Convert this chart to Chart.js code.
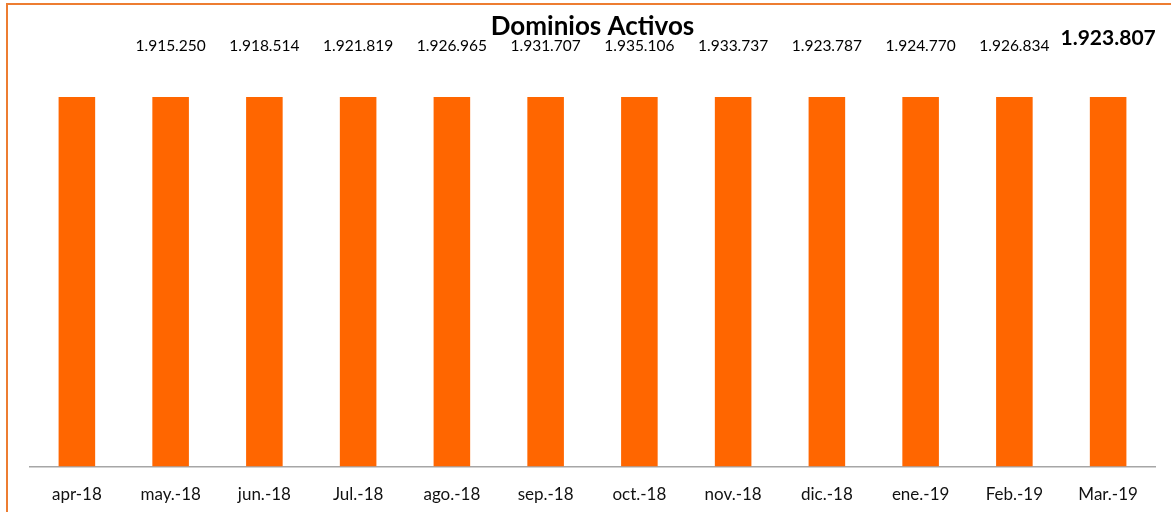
<!DOCTYPE html>
<html>
<head>
<meta charset="utf-8">
<script src="https://cdn.jsdelivr.net/npm/chart.js@4/dist/chart.umd.min.js"></script>
<style>
  html, body { margin: 0; padding: 0; background: #ffffff; }
  #wrap { width: 1171px; height: 512px; position: relative; }
</style>
</head>
<body>
<div id="wrap"><canvas id="myChart"></canvas></div>
<script>
// months on the x axis
var months = ['apr-18', 'may.-18', 'jun.-18', 'Jul.-18', 'ago.-18', 'sep.-18',
              'oct.-18', 'nov.-18', 'dic.-18', 'ene.-19', 'Feb.-19', 'Mar.-19'];
// active domains (apr-18 has no label in the picture)
var activeDomains = [null, 1915250, 1918514, 1921819, 1926965, 1931707,
                     1935106, 1933737, 1923787, 1924770, 1926834, 1923807];
// the bars all reach the same height in the picture
var barLevels = [1, 1, 1, 1, 1, 1, 1, 1, 1, 1, 1, 1];

function fmt(n) {
    return String(n).replace(/\B(?=(\d{3})+(?!\d))/g, '.');
}

// frame, title and the value labels above the bars
var decorations = {
    id: 'decorations',
    afterDraw: function (chart) {
        var ctx = chart.ctx;
        var area = chart.chartArea;
        ctx.save();
        ctx.strokeStyle = '#ED7D31';
        ctx.lineWidth = 2;
        ctx.strokeRect(7, 4, 1200, 600);

        ctx.fillStyle = '#000000';
        ctx.textAlign = 'center';
        ctx.textBaseline = 'middle';
        ctx.font = 'bold 26px Lato';
        ctx.fillText('Dominios Activos', (area.left + area.right) / 2, 27);

        var meta = chart.getDatasetMeta(0);
        var last = activeDomains.length - 1;
        activeDomains.forEach(function (v, i) {
            if (v === null) return;
            var x = meta.data[i].x;
            if (i === last) {
                ctx.font = 'bold 21px Lato';
                ctx.fillText(fmt(v), x, 38);
            } else {
                ctx.font = '15.5px Lato';
                ctx.fillText(fmt(v), x, 46);
            }
        });
        ctx.restore();
    }
};

new Chart(document.getElementById('myChart'), {
    type: 'bar',
    data: {
        labels: months,
        datasets: [{
            data: barLevels,
            backgroundColor: '#FF6600',
            barPercentage: 0.39,
            categoryPercentage: 1
        }]
    },
    options: {
        responsive: true,
        maintainAspectRatio: false,
        animation: false,
        layout: { padding: { left: 30, right: 16, top: 97, bottom: -11 } },
        plugins: {
            legend: { display: false },
            title: { display: false },
            tooltip: { enabled: false }
        },
        scales: {
            x: {
                grid: { display: false, drawTicks: false },
                border: { display: true, color: '#A6A6A6', width: 1.5 },
                ticks: { color: '#111111', font: { family: 'Lato', size: 17 }, padding: 18 }
            },
            y: {
                display: false,
                min: 0,
                max: 1
            }
        }
    },
    plugins: [decorations]
});
</script>
</body>
</html>
